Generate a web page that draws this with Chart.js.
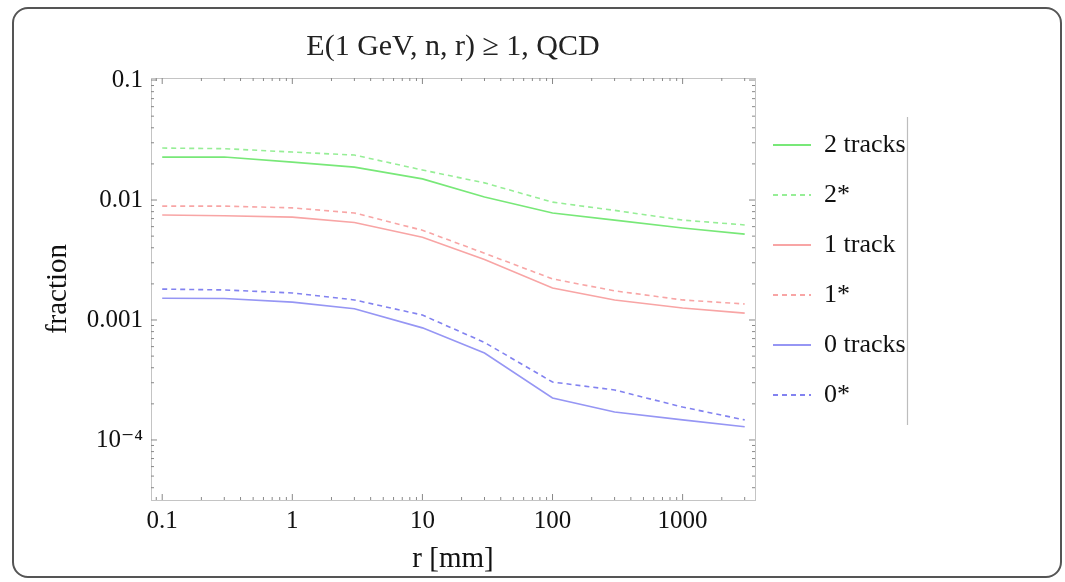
<!DOCTYPE html>
<html>
<head>
<meta charset="utf-8">
<script src="https://cdn.jsdelivr.net/npm/chart.js@4/dist/chart.umd.min.js"></script>
<style>
  html, body { margin: 0; padding: 0; background: #ffffff; }
  #wrap { position: relative; width: 1065px; height: 582px; overflow: hidden; }
  #frame { position: absolute; left: 12px; top: 7px; width: 1050px; height: 571px;
           border: 2px solid #555; border-radius: 16px; box-sizing: border-box; }
  #c { position: absolute; left: 0; top: 0; }
</style>
</head>
<body>
<div id="wrap">
  <div id="frame"></div>
  <canvas id="c" width="1065" height="582"></canvas>
</div>
<script>
// ---- data ----
const rValues = [0.1, 0.3, 1, 3, 10, 30, 100, 300, 1000, 3000];
const twoTracks  = [0.0228, 0.0228, 0.0207, 0.0188, 0.0150, 0.0106, 0.0078, 0.0068, 0.00585, 0.0052];
const twoStar    = [0.0271, 0.0268, 0.0251, 0.0237, 0.0178, 0.0139, 0.0096, 0.0082, 0.0068, 0.0062];
const oneTrack   = [0.0075, 0.0074, 0.0072, 0.0065, 0.0049, 0.0032, 0.00185, 0.00147, 0.00126, 0.00114];
const oneStar    = [0.0089, 0.0089, 0.0086, 0.0078, 0.0056, 0.0036, 0.0022, 0.00175, 0.00147, 0.00136];
const zeroTracks = [0.00152, 0.00151, 0.00141, 0.00124, 0.00086, 0.00053, 0.000224, 0.000171, 0.000147, 0.000129];
const zeroStar   = [0.00181, 0.00178, 0.00168, 0.00147, 0.0011, 0.00065, 0.000304, 0.000261, 0.000188, 0.000147];
const seriesLabels = ['2 tracks', '2*', '1 track', '1*', '0 tracks', '0*'];
const xTickValues = [0.1, 1, 10, 100, 1000];
const xTickLabels = ['0.1', '1', '10', '100', '1000'];
const yTickValues = [0.1, 0.01, 0.001, 0.0001];
const yTickLabels = ['0.1', '0.01', '0.001', '10\u207B\u2074'];
const titleText = 'E(1 GeV, n, r) \u2265 1, QCD';

const serif = "'Liberation Serif', 'DejaVu Serif', serif";

function pts(vals) { return rValues.map((x, i) => ({ x: x, y: vals[i] })); }

const styles = [
  { c: 'rgb(120,232,120)', d: [] },
  { c: 'rgb(150,238,150)', d: [5, 4] },
  { c: 'rgb(248,165,165)', d: [] },
  { c: 'rgb(248,165,165)', d: [5, 4] },
  { c: 'rgb(150,150,244)', d: [] },
  { c: 'rgb(130,130,240)', d: [5, 4] }
];
const allSeries = [twoTracks, twoStar, oneTrack, oneStar, zeroTracks, zeroStar];

const datasets = allSeries.map((s, i) => ({
  label: seriesLabels[i],
  data: pts(s),
  borderColor: styles[i].c,
  backgroundColor: styles[i].c,
  borderDash: styles[i].d,
  borderWidth: 1.6,
  pointRadius: 0,
  tension: 0,
  fill: false
}));

// frame + inside ticks (Mathematica-like)
const framePlugin = {
  id: 'frameTicks',
  afterDatasetsDraw(chart) {
    const ctx = chart.ctx, a = chart.chartArea;
    const xs = chart.scales.x, ys = chart.scales.y;
    ctx.save();
    ctx.lineWidth = 1;
    ctx.strokeStyle = '#c4c4c4';
    ctx.strokeRect(Math.round(a.left) + 0.5, Math.round(a.top) + 0.5,
                   Math.round(a.right - a.left), Math.round(a.bottom - a.top));
    ctx.strokeStyle = '#888';
    function decadesTicks(majors, scale, cb) {
      majors.forEach(d => {
        for (let m = 1; m <= 9; m++) {
          const v = d * m;
          if (v < scale.min || v > scale.max) continue;
          cb(scale.getPixelForValue(v), m === 1);
        }
      });
    }
    const xMaj = [0.01].concat(xTickValues);
    const yMaj = yTickValues.concat([0.00001]);
    decadesTicks(xMaj, xs, (px, major) => {
      const L = major ? 6 : 3;
      ctx.beginPath();
      ctx.moveTo(px, a.bottom); ctx.lineTo(px, a.bottom - L);
      ctx.moveTo(px, a.top); ctx.lineTo(px, a.top + L);
      ctx.stroke();
    });
    decadesTicks(yMaj, ys, (py, major) => {
      const L = major ? 6 : 3;
      ctx.beginPath();
      ctx.moveTo(a.left, py); ctx.lineTo(a.left + L, py);
      ctx.moveTo(a.right, py); ctx.lineTo(a.right - L, py);
      ctx.stroke();
    });
    ctx.restore();
  },
  afterDraw(chart) {
    const lg = chart.legend;
    if (!lg || !lg.legendHitBoxes || !lg.legendHitBoxes.length) return;
    const hb = lg.legendHitBoxes;
    let right = 0;
    hb.forEach(h => { right = Math.max(right, h.left + h.width); });
    const fs = 26;
    const y1 = hb[0].top + fs / 2 - 28;
    const y2 = hb[hb.length - 1].top + fs / 2 + 30;
    const ctx = chart.ctx;
    ctx.save();
    ctx.strokeStyle = '#bdbdbd';
    ctx.lineWidth = 1.2;
    ctx.beginPath();
    ctx.moveTo(Math.round(right) + 1.5, y1);
    ctx.lineTo(Math.round(right) + 1.5, y2);
    ctx.stroke();
    ctx.restore();
  }
};

new Chart(document.getElementById('c'), {
  type: 'line',
  data: { datasets: datasets },
  plugins: [framePlugin],
  options: {
    responsive: false,
    animation: false,
    layout: { padding: { left: 36, right: 150, top: 0, bottom: 5 } },
    plugins: {
      title: {
        display: true,
        text: titleText,
        fullSize: false,
        color: '#222',
        font: { family: serif, size: 30, weight: 'normal', lineHeight: 1.2 },
        padding: { top: 29, bottom: 13 }
      },
      legend: {
        display: true,
        position: 'right',
        align: 'start',
        fullSize: false,
        maxWidth: 160,
        title: {
          display: true,
          text: ' ',
          color: 'rgba(0,0,0,0)',
          font: { family: serif, size: 10, lineHeight: '16px' },
          padding: { top: 10, bottom: 10 }
        },
        labels: {
          usePointStyle: true,
          pointStyle: 'line',
          pointStyleWidth: 38,
          boxHeight: 26,
          padding: 18,
          color: '#111',
          font: { family: serif, size: 26, lineHeight: '32px' },
          generateLabels(chart) {
            const items = Chart.defaults.plugins.legend.labels.generateLabels(chart);
            items.forEach(it => {
              const ds = chart.data.datasets[it.datasetIndex];
              it.text = [it.text];
              it.lineWidth = 2;
              it.strokeStyle = ds.borderColor;
              it.lineDash = ds.borderDash;
              it.pointStyle = 'line';
            });
            return items;
          }
        }
      },
      tooltip: { enabled: false }
    },
    scales: {
      x: {
        type: 'logarithmic',
        min: 0.082,
        max: 3600,
        grid: { display: false, drawTicks: false },
        border: { display: false },
        afterBuildTicks(scale) { scale.ticks = xTickValues.map(v => ({ value: v })); },
        afterFit(scale) { scale.height = 77; },
        ticks: {
          autoSkip: false,
          maxRotation: 0,
          padding: 6,
          color: '#111',
          font: { family: serif, size: 25 },
          callback(v) { const i = xTickValues.indexOf(v); return i >= 0 ? xTickLabels[i] : ''; }
        },
        title: {
          display: true,
          text: 'r [mm]',
          color: '#111',
          font: { family: serif, size: 29, lineHeight: 1.2 },
          padding: { top: 4, bottom: 0 }
        }
      },
      y: {
        type: 'logarithmic',
        min: 0.0000316,
        max: 0.104,
        grid: { display: false, drawTicks: false },
        border: { display: false },
        afterBuildTicks(scale) { scale.ticks = yTickValues.map(v => ({ value: v })); },
        afterFit(scale) { scale.width = 115; },
        ticks: {
          autoSkip: false,
          padding: 8,
          color: '#111',
          font: { family: serif, size: 25 },
          callback(v) { const i = yTickValues.indexOf(v); return i >= 0 ? yTickLabels[i] : ''; }
        },
        title: {
          display: true,
          text: 'fraction',
          color: '#111',
          font: { family: serif, size: 29, lineHeight: 1.2 },
          padding: { top: 5, bottom: 0 }
        }
      }
    }
  }
});
</script>
</body>
</html>
